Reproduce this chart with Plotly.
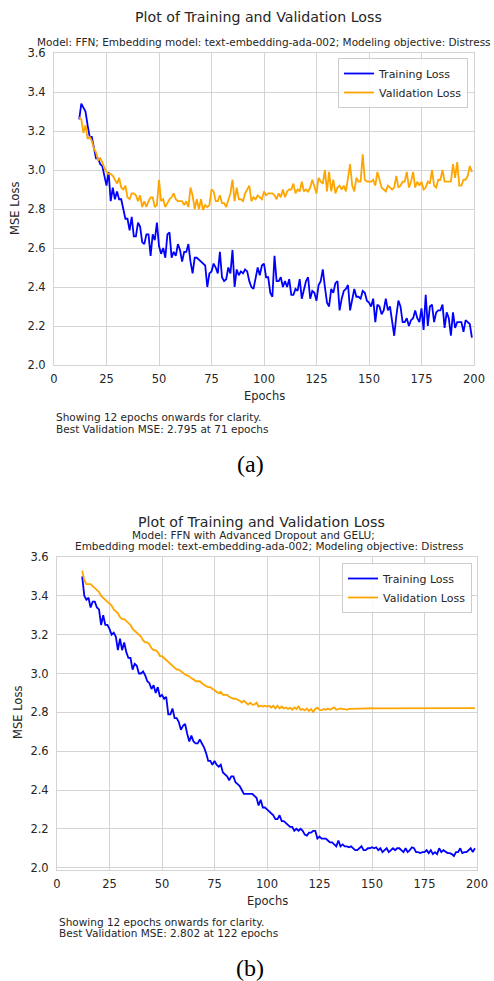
import plotly.graph_objects as go

W, H = 494, 981

epochs = list(range(12, 200))

train_a = [
    3.26, 3.34, 3.32, 3.30, 3.23, 3.17, 3.17, 3.12, 3.06, 3.06,
    3.03, 3.02, 2.97, 2.92, 2.99, 2.84, 2.91, 2.85, 2.89, 2.85,
    2.85, 2.80, 2.75, 2.75, 2.69, 2.76, 2.66, 2.66, 2.73, 2.71,
    2.63, 2.62, 2.67, 2.67, 2.56, 2.67, 2.64, 2.73, 2.61, 2.57,
    2.60, 2.55, 2.67, 2.68, 2.55, 2.58, 2.56, 2.62, 2.59, 2.53,
    2.58, 2.58, 2.62, 2.53, 2.47, 2.55, 2.55, 2.54, 2.53, 2.52,
    2.51, 2.40, 2.47, 2.48, 2.52, 2.50, 2.47, 2.58, 2.45, 2.43,
    2.44, 2.50, 2.47, 2.59, 2.40, 2.49, 2.46, 2.48, 2.47, 2.49,
    2.48, 2.43, 2.40, 2.39, 2.44, 2.50, 2.46, 2.51, 2.52, 2.45,
    2.45, 2.37, 2.35, 2.56, 2.43, 2.43, 2.45, 2.40, 2.43, 2.40,
    2.44, 2.36, 2.36, 2.39, 2.38, 2.44, 2.34, 2.38, 2.43, 2.45,
    2.34, 2.38, 2.37, 2.33, 2.41, 2.43, 2.49, 2.40, 2.32, 2.30,
    2.39, 2.37, 2.42, 2.43, 2.28, 2.34, 2.38, 2.39, 2.41, 2.28,
    2.34, 2.39, 2.35, 2.35, 2.34, 2.38, 2.37, 2.33, 2.32, 2.30,
    2.34, 2.22, 2.31, 2.30, 2.26, 2.28, 2.34, 2.28, 2.30, 2.22,
    2.15, 2.25, 2.33, 2.30, 2.22, 2.22, 2.24, 2.20, 2.23, 2.24,
    2.28, 2.24, 2.22, 2.29, 2.18, 2.36, 2.20, 2.30, 2.31, 2.22,
    2.27, 2.28, 2.28, 2.31, 2.19, 2.27, 2.24, 2.15, 2.27, 2.19,
    2.22, 2.22, 2.22, 2.17, 2.23, 2.22, 2.21, 2.14,
]

val_a = [
    3.27, 3.26, 3.19, 3.23, 3.16, 3.17, 3.15, 3.11, 3.09, 3.05,
    3.06, 3.04, 3.01, 2.99, 2.98, 2.98, 2.97, 2.95, 2.93, 2.96,
    2.91, 2.90, 2.92, 2.86, 2.85, 2.88, 2.88, 2.87, 2.84, 2.87,
    2.81, 2.84, 2.81, 2.84, 2.86, 2.86, 2.81, 2.82, 2.95, 2.84,
    2.85, 2.81, 2.83, 2.85, 2.86, 2.88, 2.85, 2.84, 2.84, 2.84,
    2.82, 2.84, 2.81, 2.91, 2.87, 2.80, 2.85, 2.80, 2.85, 2.795,
    2.82, 2.81, 2.82, 2.90, 2.89, 2.84, 2.84, 2.87, 2.83, 2.83,
    2.81, 2.84, 2.88, 2.95, 2.84, 2.91, 2.85, 2.85, 2.84, 2.88,
    2.90, 2.92, 2.84, 2.86, 2.85, 2.87, 2.86, 2.85, 2.89, 2.87,
    2.88, 2.88, 2.88, 2.87, 2.85, 2.88, 2.86, 2.90, 2.86, 2.89,
    2.90, 2.90, 2.93, 2.88, 2.90, 2.89, 2.94, 2.89, 2.90, 2.89,
    2.91, 2.95, 2.92, 2.88, 2.96, 2.94, 2.93, 3.00, 2.89, 2.99,
    2.89, 2.95, 2.88, 2.91, 2.92, 2.90, 2.92, 2.89, 2.96, 3.03,
    2.92, 2.89, 2.96, 2.94, 2.94, 3.08, 2.95, 2.94, 2.94, 2.94,
    2.95, 2.92, 2.99, 2.95, 2.91, 2.90, 2.89, 2.92, 2.91, 2.90,
    2.91, 2.97, 2.91, 2.92, 2.94, 2.94, 2.99, 2.91, 2.94, 2.99,
    2.91, 2.94, 2.92, 2.94, 2.90, 2.91, 2.94, 2.93, 3.00, 2.92,
    2.91, 2.95, 2.95, 3.00, 2.94, 2.94, 2.94, 2.94, 3.03, 2.96,
    3.04, 2.92, 2.92, 2.95, 2.95, 2.97, 3.02, 2.99,
]

train_b = [
    3.50, 3.40, 3.38, 3.39, 3.34, 3.37, 3.37, 3.34, 3.33, 3.25,
    3.30, 3.25, 3.25, 3.23, 3.20, 3.21, 3.19, 3.12, 3.18, 3.12,
    3.16, 3.11, 3.08, 3.08, 3.02, 3.05, 3.04, 3.00, 3.00, 3.01,
    2.99, 2.96, 2.95, 2.92, 2.94, 2.90, 2.93, 2.88, 2.89, 2.87,
    2.88, 2.79, 2.79, 2.82, 2.77, 2.77, 2.75, 2.71, 2.73, 2.74,
    2.69, 2.65, 2.68, 2.65, 2.64, 2.64, 2.66, 2.64, 2.62, 2.59,
    2.55, 2.55, 2.53, 2.55, 2.53, 2.52, 2.53, 2.49, 2.48, 2.47,
    2.45, 2.47, 2.47, 2.44, 2.43, 2.42, 2.40, 2.38, 2.38, 2.38,
    2.38, 2.38, 2.37, 2.36, 2.32, 2.35, 2.31, 2.31, 2.30, 2.29,
    2.28, 2.27, 2.25, 2.25, 2.27, 2.24, 2.24, 2.23, 2.22, 2.21,
    2.21, 2.19, 2.20, 2.19, 2.20, 2.19, 2.17, 2.165, 2.18, 2.18,
    2.19, 2.19, 2.15, 2.16, 2.15, 2.15, 2.15, 2.14, 2.13, 2.13,
    2.12, 2.11, 2.14, 2.11, 2.12, 2.11, 2.11, 2.105, 2.11, 2.10,
    2.09, 2.09, 2.10, 2.11, 2.09, 2.09, 2.10, 2.10, 2.105, 2.10,
    2.105, 2.09, 2.10, 2.08, 2.09, 2.10, 2.08, 2.09, 2.10, 2.09,
    2.10, 2.10, 2.09, 2.08, 2.10, 2.08, 2.09, 2.105, 2.10, 2.08,
    2.08, 2.075, 2.08, 2.08, 2.09, 2.075, 2.09, 2.07, 2.08, 2.07,
    2.10, 2.08, 2.09, 2.08, 2.075, 2.075, 2.07, 2.06, 2.08, 2.08,
    2.10, 2.075, 2.08, 2.08, 2.09, 2.10, 2.08, 2.10,
]

val_b = [
    3.53, 3.48, 3.46, 3.46, 3.46, 3.45, 3.44, 3.43, 3.42, 3.40,
    3.39, 3.38, 3.37, 3.36, 3.35, 3.33, 3.32, 3.31, 3.29, 3.28,
    3.28, 3.27, 3.26, 3.25, 3.23, 3.22, 3.21, 3.20, 3.19, 3.17,
    3.16, 3.16, 3.15, 3.13, 3.12, 3.12, 3.11, 3.09, 3.09, 3.08,
    3.07, 3.06, 3.05, 3.04, 3.03, 3.02, 3.02, 3.01, 3.00, 2.995,
    2.99, 2.985, 2.975, 2.97, 2.96, 2.96, 2.96, 2.95, 2.94, 2.935,
    2.93, 2.93, 2.92, 2.915, 2.905, 2.90, 2.905, 2.89, 2.89, 2.89,
    2.88, 2.875, 2.87, 2.87, 2.865, 2.86, 2.85, 2.86, 2.85, 2.84,
    2.85, 2.84, 2.84, 2.85, 2.83, 2.834, 2.83, 2.834, 2.83, 2.834,
    2.825, 2.834, 2.82, 2.834, 2.82, 2.83, 2.82, 2.825, 2.817, 2.824,
    2.813, 2.825, 2.817, 2.83, 2.813, 2.817, 2.81, 2.82, 2.807, 2.817,
    2.802, 2.817, 2.824, 2.813, 2.81, 2.817, 2.813, 2.82, 2.813, 2.817,
    2.825, 2.813, 2.817, 2.82, 2.817, 2.817, 2.813, 2.818, 2.818, 2.819,
    2.818, 2.819, 2.819, 2.819, 2.820, 2.819, 2.820, 2.820, 2.821, 2.820,
    2.820, 2.820, 2.820, 2.821, 2.820, 2.821, 2.821, 2.820, 2.821, 2.821,
    2.821, 2.821, 2.821, 2.821, 2.821, 2.821, 2.821, 2.822, 2.821, 2.821,
    2.821, 2.822, 2.821, 2.822, 2.822, 2.822, 2.822, 2.822, 2.822, 2.822,
    2.822, 2.822, 2.822, 2.822, 2.822, 2.822, 2.822, 2.822, 2.822, 2.822,
    2.822, 2.822, 2.822, 2.822, 2.822, 2.822, 2.822, 2.822,
]

x_ticks = [0, 25, 50, 75, 100, 125, 150, 175, 200]
y_ticks = [2.0, 2.2, 2.4, 2.6, 2.8, 3.0, 3.2, 3.4, 3.6]

title_text = "Plot of Training and Validation Loss"
subtitle_a = "Model: FFN; Embedding model: text-embedding-ada-002; Modeling objective: Distress"
subtitle_b1 = "Model: FFN with Advanced Dropout and GELU;"
subtitle_b2 = "Embedding model: text-embedding-ada-002; Modeling objective: Distress"
note_1 = "Showing 12 epochs onwards for clarity."
note_a = "Best Validation MSE: 2.795 at 71 epochs"
note_b = "Best Validation MSE: 2.802 at 122 epochs"

FONT = "DejaVu Sans"
TXT = "#262626"
GRID = "#d4d4d4"
BLUE = "#0000ff"
ORANGE = "#ffa500"

def px(x):
    return x / W

def py(y):
    return 1 - y / H

fig = go.Figure()
fig.add_trace(go.Scatter(x=epochs, y=train_a, mode="lines", name="Training Loss",
                         line=dict(color=BLUE, width=1.8), xaxis="x", yaxis="y", legend="legend"))
fig.add_trace(go.Scatter(x=epochs, y=val_a, mode="lines", name="Validation Loss",
                         line=dict(color=ORANGE, width=1.8), xaxis="x", yaxis="y", legend="legend"))
fig.add_trace(go.Scatter(x=epochs, y=train_b, mode="lines", name="Training Loss",
                         line=dict(color=BLUE, width=1.8), xaxis="x2", yaxis="y2", legend="legend2"))
fig.add_trace(go.Scatter(x=epochs, y=val_b, mode="lines", name="Validation Loss",
                         line=dict(color=ORANGE, width=1.8), xaxis="x2", yaxis="y2", legend="legend2"))

axis_common = dict(showgrid=True, gridcolor=GRID, gridwidth=1, zeroline=False,
                   showline=True, linecolor=GRID, linewidth=1, mirror=True, ticks="",
                   automargin=False,
                   tickfont=dict(family=FONT, size=11.5, color=TXT))

xa = dict(axis_common, range=[0, 200], tickvals=x_ticks, ticklabelstandoff=3)
ya = dict(axis_common, tickvals=y_ticks, tickformat=".1f", ticklabelstandoff=5)

legend_common = dict(font=dict(family=FONT, size=11, color=TXT), bgcolor="rgba(255,255,255,0.85)",
                     bordercolor="#cccccc", borderwidth=1, xanchor="left", yanchor="top",
                     itemwidth=30, tracegroupgap=0)

fig.update_layout(
    width=W, height=H, autosize=False,
    margin=dict(l=0, r=0, t=0, b=0, pad=0, autoexpand=False),
    paper_bgcolor="white", plot_bgcolor="white",
    font=dict(family=FONT, color=TXT),
    xaxis=dict(xa, domain=[px(54), px(474)], anchor="y"),
    yaxis=dict(ya, domain=[py(365), py(53)], range=[2.0, 3.6], anchor="x"),
    xaxis2=dict(xa, domain=[px(57), px(477)], anchor="y2"),
    yaxis2=dict(ya, domain=[py(870), py(557)], range=[1.988, 3.6], anchor="x2"),
    legend=dict(legend_common, x=px(338), y=py(58)),
    legend2=dict(legend_common, x=px(342), y=py(563)),
    showlegend=True,
)

def txt(x, y, s, size, xanchor="center", family=FONT, color=TXT, angle=0):
    fig.add_annotation(x=px(x), y=py(y), xref="paper", yref="paper", text=s, showarrow=False,
                       xanchor=xanchor, yanchor="middle", textangle=angle,
                       font=dict(family=family, size=size, color=color))

# panel (a)
txt(258, 17, title_text, 14.2)
txt(264, 42, subtitle_a, 10.5)
txt(264, 396, "Epochs", 11.5)
txt(15, 209, "MSE Loss", 11.5, angle=-90)
txt(54, 417, note_1, 10.5, xanchor="left")
txt(54, 429, note_a, 10.5, xanchor="left")
txt(250, 464, "(a)", 24, family="Liberation Serif", color="#000000")

# panel (b)
txt(261, 522, title_text, 14.2)
txt(254, 535, subtitle_b1, 10.5)
txt(269, 546, subtitle_b2, 10.5)
txt(267, 901, "Epochs", 11.5)
txt(18, 713, "MSE Loss", 11.5, angle=-90)
txt(57, 922, note_1, 10.5, xanchor="left")
txt(57, 933, note_b, 10.5, xanchor="left")
txt(250, 968, "(b)", 24, family="Liberation Serif", color="#000000")

fig.write_html("out.html", config={"displayModeBar": False},
               post_script="document.body.style.margin='0';")
